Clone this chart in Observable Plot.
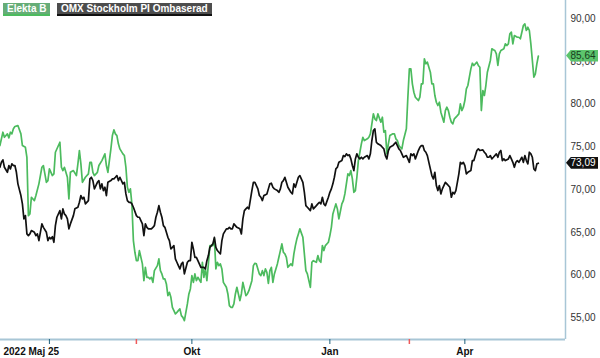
<!DOCTYPE html>
<html><head><meta charset="utf-8">
<script src="https://cdn.jsdelivr.net/npm/d3@7"></script>
<script src="https://cdn.jsdelivr.net/npm/@observablehq/plot@0.6"></script>
<style>
body{margin:0;background:#fff;font-family:"Liberation Sans",Arial,sans-serif;}
#wrap{position:relative;width:600px;height:358px;overflow:hidden;}
.leg{position:absolute;top:3px;height:11px;line-height:11px;font-size:10px;font-weight:bold;color:#fff;padding:0 4px;white-space:nowrap;}
.val{position:absolute;left:566px;width:32px;height:12px;line-height:12px;font-size:10px;text-align:center;padding-left:2px;box-sizing:border-box;clip-path:polygon(0 50%,5px 0,100% 0,100% 100%,5px 100%);}
</style></head><body><div id="wrap"></div>
<script>
// day offsets counted from 2022-05-25
const baseDay = "2022-05-25";
const seriesNames = ["Elekta B", "OMX Stockholm PI Ombaserad"];
const elektaB = [[1,75.16],[3,76.72],[4,76.13],[6,76.53],[7,76.06],[8,76.72],[9,76.53],[10,77.12],[11,77.39],[13,77.50],[15,76.53],[16,75.16],[18,74.96],[19,73.79],[20,66.96],[21,67.16],[22,69.11],[24,68.72],[25,69.31],[27,70.68],[29,72.62],[30,72.82],[32,70.86],[33,71.06],[34,72.43],[36,71.65],[37,71.85],[38,74.38],[41,75.55],[42,72.62],[43,72.23],[44,72.62],[46,71.45],[47,68.92],[48,72.03],[50,72.23],[52,71.65],[53,73.02],[54,74.58],[55,73.02],[56,70.86],[58,71.45],[60,71.85],
[61,73.20],[62,73.20],[63,72.03],[64,71.65],[66,72.03],[67,72.82],[69,73.40],[71,74.19],[72,72.82],[73,72.03],[74,73.40],[75,74.77],[76,76.33],[77,77.00],[78,76.53],[79,76.33],[80,75.36],[81,74.77],[83,74.19],[84,73.99],[85,72.62],[86,70.28],[87,69.69],[88,70.09],[89,68.33],[90,64.04],[91,62.67],[92,61.69],[93,61.69],[94,62.87],[96,61.31],[97,59.35],[98,60.91],[99,59.74],[100,59.74],[101,59.55],[102,59.74],[103,59.15],[104,60.52],[106,61.11],[107,61.89],[108,60.52],[109,60.13],[110,59.55],[111,59.55],[112,58.97],[113,57.60],[114,57.98],[115,57.40],[116,56.23],[118,55.45],[119,55.64],[120,55.84],
[121,56.04],[122,55.25],[123,55.05],[124,54.67],[126,56.62],[127,57.79],[128,58.38],[129,59.94],[130,59.15],[131,60.14],[132,59.35],[133,59.74],[135,59.15],[136,61.50],[137,59.74],[138,60.72],[139,59.35],[140,61.31],[141,63.45],[143,63.45],[144,64.24],[145,60.72],[146,61.50],[147,61.11],[148,61.31],[149,60.72],[150,59.15],[152,58.57],[153,57.79],[154,56.43],[155,56.23],[156,56.23],[157,56.62],[158,57.79],[159,58.57],[161,57.01],[162,57.79],[163,59.15],[164,58.38],[165,57.60],[166,57.79],[167,58.18],[169,59.35],[170,61.11],[171,61.38],[172,61.31],[173,60.72],[174,60.14],[175,59.94],[176,60.52],[177,59.94],[178,60.72],[179,60.32],[180,59.04],
[181,60.52],[182,60.91],[183,59.15],[184,60.14],[186,61.31],[187,62.08],[188,62.87],[189,63.65],[190,62.67],[191,62.48],[192,62.08],[193,60.91],[195,61.31],[196,61.11],[197,62.48],[198,63.45],[199,64.24],[200,64.82],[201,65.41],[203,64.42],[204,62.48],[205,60.52],[206,60.14],[207,59.35],[208,58.57],[209,61.50],[210,61.69],[212,61.50],[213,62.28],[214,61.69],[215,61.50],[216,63.45],[217,62.87],[218,63.45],[220,63.84],[221,64.62],[222,65.59],[223,67.16],[224,67.75],[225,68.33],[226,67.75],[227,66.58],[229,68.33],[230,68.72],[231,69.50],[232,70.68],[233,71.85],[234,71.65],[235,72.23],[236,71.26],[237,69.69],[238,69.89],[239,71.45],[240,73.40],
[241,74.38],[242,75.36],[243,76.13],[244,75.75],[246,75.95],[247,76.13],[248,76.53],[249,77.70],[250,78.87],[251,78.29],[252,78.09],[253,78.87],[255,77.89],[256,78.48],[257,76.72],[258,76.92],[259,74.19],[260,75.36],[261,76.33],[263,76.53],[264,76.53],[265,75.95],[266,75.75],[267,75.16],[268,74.96],[269,74.77],[270,75.75],[272,77.12],[273,80.82],[274,84.14],[275,84.14],[276,82.39],[277,81.40],[278,80.82],[280,80.43],[281,80.82],[282,82.39],[283,82.39],[284,85.31],[285,84.73],[286,84.92],[287,84.33],[288,83.75],[289,82.39],[290,82.39],[291,81.02],[292,80.23],[293,79.85],[294,80.23],[295,79.06],[296,78.48],[297,77.89],[298,79.26],[299,79.65],[300,79.26],
[301,78.48],[302,77.89],[303,77.70],[304,78.29],[306,78.67],[307,78.87],[308,80.04],[309,79.26],[310,79.65],[311,80.43],[312,81.80],[313,82.19],[314,83.16],[315,84.14],[316,84.80],[317,84.53],[319,84.92],[320,84.53],[321,84.33],[322,79.26],[323,81.60],[324,81.02],[325,82.19],[326,83.74],[328,85.12],[329,86.49],[330,86.37],[331,86.29],[332,85.90],[333,84.53],[334,85.90],[335,86.29],[337,86.49],[338,87.07],[339,86.87],[340,87.07],[341,88.24],[342,88.43],[343,87.07],[344,88.04],[346,87.84],[347,87.84],[348,87.66],[349,88.43],[350,89.21],[351,89.41],[352,88.63],[353,89.01],[354,88.63],[355,87.07],[356,85.12],[357,83.16],[358,83.56],[359,84.73],[360,85.64]];
const omxPI = [[1,72.62],[2,73.20],[3,73.49],[4,72.62],[6,72.03],[7,72.82],[8,72.43],[9,73.02],[10,72.82],[11,72.82],[12,72.03],[13,70.68],[15,69.31],[16,68.33],[17,66.58],[18,66.96],[19,64.82],[20,64.62],[21,64.82],[22,65.21],[24,65.01],[25,64.62],[26,64.82],[27,64.04],[29,65.99],[30,65.59],[32,65.01],[33,64.04],[34,64.42],[35,64.24],[36,64.50],[37,63.84],[38,65.79],[39,66.77],[41,67.55],[42,66.58],[43,67.75],[44,67.16],[45,66.96],[46,66.58],[47,65.41],[48,65.99],[50,66.96],[51,67.75],[53,67.94],[54,68.52],[55,69.31],[56,68.92],[57,69.11],[58,68.33],[60,68.72],
[61,71.26],[62,71.45],[63,71.06],[64,70.09],[66,70.86],[67,71.06],[68,70.09],[69,70.68],[70,69.89],[71,70.28],[72,69.31],[73,70.86],[75,71.06],[76,71.26],[77,71.26],[78,71.45],[79,71.65],[80,71.06],[81,71.45],[83,70.68],[84,70.86],[85,69.50],[86,68.72],[87,68.52],[88,68.52],[89,68.33],[90,67.94],[92,66.96],[93,66.77],[94,66.77],[95,66.38],[96,65.99],[97,64.62],[98,65.99],[99,65.59],[100,65.41],[101,65.41],[102,65.41],[103,65.59],[104,65.79],[105,66.77],[106,67.35],[107,68.13],[108,67.35],[109,66.77],[110,65.79],[111,65.59],[112,65.01],[113,64.42],[114,64.04],[115,63.06],[116,63.25],[117,63.45],[118,61.89],[119,61.50],[120,61.11],
[121,60.72],[122,61.31],[123,61.50],[124,60.14],[126,61.50],[127,61.69],[128,61.69],[129,63.84],[130,63.06],[131,62.08],[132,62.08],[133,61.69],[135,60.91],[136,60.91],[137,60.91],[138,60.72],[139,61.69],[140,62.28],[141,63.25],[143,63.65],[144,64.42],[145,63.25],[146,62.87],[147,62.67],[148,62.48],[149,64.04],[150,64.82],[152,65.41],[153,65.41],[154,65.59],[155,65.41],[156,65.41],[157,65.99],[158,65.79],[159,65.59],[161,65.41],[162,64.82],[163,66.58],[164,67.55],[165,67.75],[166,67.94],[167,67.75],[169,69.89],[170,70.86],[171,70.86],[172,70.48],[173,70.09],[174,69.31],[175,69.11],[176,68.72],[177,69.31],[178,69.39],[179,69.50],[180,70.09],
[181,70.68],[182,70.75],[183,70.28],[184,70.09],[186,69.89],[187,69.69],[188,70.09],[189,70.86],[190,71.06],[191,71.45],[192,70.86],[193,70.28],[195,69.69],[196,69.50],[197,70.68],[198,70.28],[199,70.86],[200,71.45],[201,71.65],[203,70.86],[204,69.69],[205,68.13],[206,67.94],[207,67.75],[208,67.55],[209,68.33],[210,67.75],[212,68.13],[213,68.33],[214,68.52],[215,68.33],[216,69.11],[217,68.33],[218,68.13],[220,69.11],[221,69.69],[222,70.09],[223,70.68],[224,71.45],[225,72.43],[226,72.62],[227,73.20],[229,73.40],[230,73.99],[231,73.87],[232,74.19],[233,73.99],[234,74.07],[235,73.60],[236,72.82],[237,72.23],[238,73.60],[239,74.19],[240,73.79],
[241,73.60],[242,73.79],[243,73.60],[244,73.79],[246,73.99],[247,73.60],[248,74.19],[249,75.75],[250,76.92],[251,77.12],[252,75.55],[253,75.36],[255,75.16],[256,74.96],[257,74.77],[258,73.99],[259,73.60],[260,74.58],[261,74.96],[263,75.16],[264,75.36],[265,75.55],[266,75.16],[267,74.77],[268,74.58],[269,74.19],[270,73.79],[272,73.99],[273,73.60],[274,73.20],[275,74.19],[276,73.99],[277,74.19],[278,73.60],[280,74.58],[281,74.96],[282,75.16],[283,75.16],[284,74.58],[285,74.38],[286,73.99],[287,73.20],[289,71.65],[290,71.26],[291,72.03],[292,70.48],[293,69.89],[294,70.48],[295,69.50],[296,70.09],[297,70.48],[298,70.86],[299,70.68],[300,70.48],
[301,70.28],[302,69.11],[303,69.69],[304,69.50],[305,69.89],[306,70.86],[307,71.85],[308,73.20],[309,73.02],[310,73.20],[311,72.82],[312,71.85],[313,72.03],[315,72.23],[316,73.40],[317,73.40],[318,73.99],[319,74.58],[320,74.77],[321,74.58],[323,74.66],[324,74.38],[325,74.19],[326,73.79],[327,73.79],[328,73.99],[329,73.60],[330,73.79],[332,74.19],[333,73.79],[334,74.38],[335,74.58],[336,73.40],[337,73.60],[338,73.40],[340,73.60],[341,73.99],[342,73.60],[343,73.20],[344,72.62],[345,73.20],[346,73.40],[347,73.20],[349,73.79],[350,73.20],[351,73.99],[352,73.40],[353,73.02],[354,74.38],[355,74.19],[356,73.79],[357,72.43],[358,72.23],[359,73.02],[360,73.09]];
const yTicks = [55, 60, 65, 70, 75, 80, 85, 90];
const monthTickDates = ["2022-06-28", "2022-10-01", "2023-01-01", "2023-04-01"];
const monthTickLabels = ["", "Okt", "Jan", "Apr"];
const reportDates = ["2022-08-25", "2023-02-23"];
const startLabel = "2022 Maj 25";
const lastValues = [85.64, 73.09];

const base = new Date(baseDay + "T00:00:00Z").getTime();
const DAY = 864e5;
const toDate = d => new Date(base + d * DAY);
const rows = (arr, name) => arr.map(([d, v]) => ({date: toDate(d), value: v, series: name}));
const dataE = rows(elektaB, seriesNames[0]);
const dataO = rows(omxPI, seriesNames[1]);
const sv = d3.formatLocale({decimal: ",", thousands: " ", grouping: [3]});
const fmt = sv.format(".2f");
const tickDates = monthTickDates.map(s => new Date(s + "T00:00:00Z"));
const repDates = reportDates.map(s => new Date(s + "T00:00:00Z"));
const xDomain = [toDate(1.4), toDate(378.1)];
const yDomain = [52.46, 92.14];
const green = "#4cbb5e", black = "#111";

const chart = Plot.plot({
  width: 600, height: 358,
  marginLeft: 0, marginRight: 35, marginTop: 0, marginBottom: 19,
  style: {fontFamily: "Liberation Sans, Arial, sans-serif", background: "transparent"},
  x: {type: "utc", domain: xDomain},
  y: {domain: yDomain},
  marks: [
    Plot.ruleY([yDomain[0]], {stroke: "#a8c6d6", strokeWidth: 2}),
    Plot.ruleX([xDomain[1]], {stroke: "#a8c6d6", strokeWidth: 1.5}),
    Plot.axisX({ticks: tickDates, tickFormat: d => monthTickLabels[tickDates.findIndex(t => +t === +d)],
      tickSize: 5, tickPadding: 3, stroke: "#1d5f7a", fill: "#111", fontSize: 10, fontWeight: "bold", label: null}),
    Plot.axisX({ticks: repDates, tickFormat: () => "", tickSize: 5, stroke: "#ef5a5a", strokeWidth: 1.5, label: null}),
    Plot.text([startLabel], {frameAnchor: "bottom-left", textAnchor: "start", lineAnchor: "top", dx: 3, dy: 8,
      fontSize: 10, fontWeight: "bold", fill: "#111"}),
    Plot.axisY({anchor: "right", ticks: yTicks, tickFormat: fmt, tickSize: 0, tickPadding: 5,
      fontSize: 10, fill: "#333", label: null}),
    Plot.line(dataE, {x: "date", y: "value", stroke: green, strokeWidth: 1.7}),
    Plot.line(dataO, {x: "date", y: "value", stroke: black, strokeWidth: 1.7})
  ]
});
const wrap = document.getElementById("wrap");
wrap.appendChild(chart);

// legend tags
const legColors = [{bg: "#66ad77", line: green}, {bg: "#4d4d4d", line: "#111"}];
let left = 3;
seriesNames.forEach((n, i) => {
  const el = document.createElement("div");
  el.className = "leg";
  el.textContent = n;
  el.style.left = left + "px";
  el.style.background = legColors[i].bg;
  el.style.borderBottom = "2px solid " + legColors[i].line;
  wrap.appendChild(el);
  left += el.offsetWidth + 7;
});

// last-value tags on the right, placed with the chart's y scale
const ys = chart.scale("y");
const tagStyles = [{bg: "#5cc46c", fg: "#173d1c"}, {bg: "#111", fg: "#fff"}];
lastValues.forEach((v, i) => {
  const el = document.createElement("div");
  el.className = "val";
  el.textContent = fmt(v);
  el.style.top = (ys.apply(v) - 6) + "px";
  el.style.background = tagStyles[i].bg;
  el.style.color = tagStyles[i].fg;
  wrap.appendChild(el);
});
</script></body></html>
